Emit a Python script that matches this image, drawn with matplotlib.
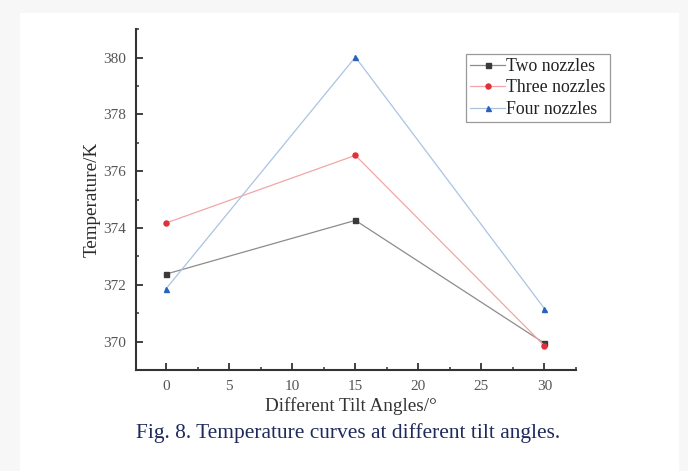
import numpy as np
import matplotlib.pyplot as plt
from matplotlib.patches import Rectangle
from matplotlib.ticker import MultipleLocator

# tilt angle (deg) vs. temperature (K)
angles = [0, 15, 30]
two_nozzles = [372.38, 374.27, 369.94]
three_nozzles = [374.18, 376.56, 369.85]
four_nozzles = [371.87, 380.02, 371.16]

series_names = ['Two nozzles', 'Three nozzles', 'Four nozzles']
caption = 'Fig. 8. Temperature curves at different tilt angles.'

plt.rcParams['font.family'] = ['Liberation Serif', 'DejaVu Serif']

fig = plt.figure(figsize=(6.88, 4.71), dpi=100, facecolor='#f7f7f7')
# white page behind the plot
fig.patches.append(Rectangle((20 / 688, 0), 659 / 688, 1 - 13 / 471,
                             transform=fig.transFigure, facecolor='white',
                             edgecolor='none', zorder=-1))

ax = fig.add_axes([136 / 688, 1 - 370 / 471, 440 / 688, 340.7 / 471])
ax.set_facecolor('none')
ax.set_zorder(2)

styles = [
    dict(color='#8c8c8c', marker='s', mfc='#3a3a3a', mec='#3a3a3a'),
    dict(color='#f2a6a6', marker='o', mfc='#e0303a', mec='#e0303a'),
    dict(color='#a9c4e2', marker='^', mfc='#2a62c0', mec='#2a62c0'),
]
for vals, name, st in zip([two_nozzles, three_nozzles, four_nozzles], series_names, styles):
    ax.plot(angles, vals, lw=0.9, ms=3.6, label=name, **st)

ax.set_xlim(-2.4, 32.5)
ax.set_ylim(369, 381)
ax.xaxis.set_major_locator(MultipleLocator(5))
ax.xaxis.set_minor_locator(MultipleLocator(2.5))
ax.yaxis.set_major_locator(MultipleLocator(2))
ax.yaxis.set_minor_locator(MultipleLocator(1))

for side in ['top', 'right']:
    ax.spines[side].set_visible(False)
for side in ['left', 'bottom']:
    ax.spines[side].set_linewidth(1.5)
    ax.spines[side].set_color('#333333')

ax.tick_params(which='major', direction='in', length=5, width=1.3, color='#333333',
               labelsize=11, labelcolor='#555555', pad=7)
ax.tick_params(which='minor', direction='in', length=2.5, width=1.1, color='#333333')

ax.set_xlabel('Different Tilt Angles/°', fontsize=13.8, color='#333333')
ax.set_ylabel('Temperature/K', fontsize=13.8, color='#2a2a2a')
ax.xaxis.label.set_va('center')
ax.yaxis.label.set_va('center')
ax.xaxis.set_label_coords(0.489, -0.106)
ax.yaxis.set_label_coords(-0.1, 0.5)

leg = ax.legend(loc='upper left', bbox_to_anchor=(0.75, 0.9275), borderaxespad=0,
                fontsize=12.8, fancybox=False, edgecolor='#999999', framealpha=1,
                handlelength=2.0, handletextpad=0.05, labelspacing=0.25,
                borderpad=0.22)
leg.get_frame().set_linewidth(0.9)
for t in leg.get_texts():
    t.set_color('#222222')

fig.text(348 / 688, 1 - 433 / 471, caption, ha='center', va='center',
         fontsize=15.4, color='#1f2a5c')

fig.savefig('out.png', dpi=100, facecolor=fig.get_facecolor())
